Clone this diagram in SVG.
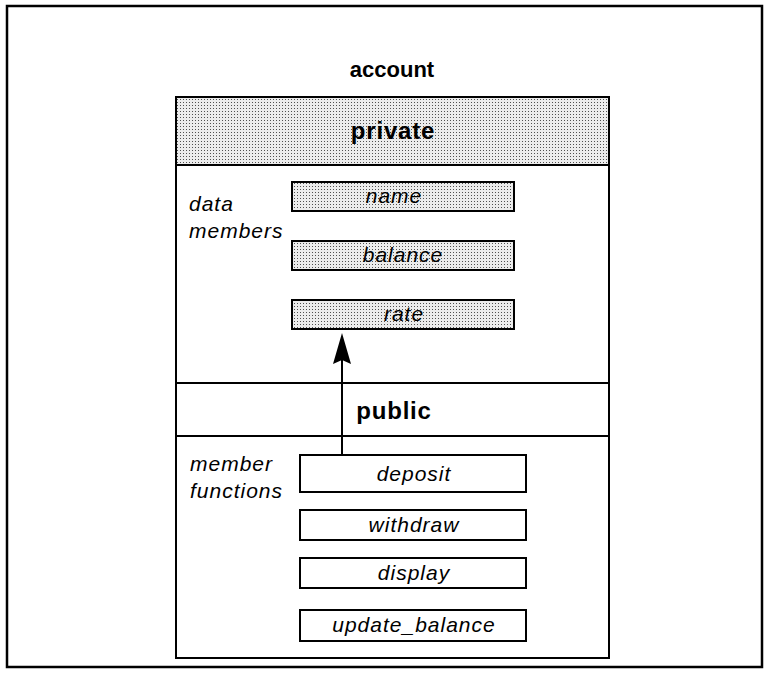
<svg xmlns="http://www.w3.org/2000/svg" width="764" height="698" viewBox="0 0 764 698">
<style>
text{font-family:"Liberation Sans",Arial,sans-serif;fill:#000}
.t{font-weight:bold;font-size:22px;text-anchor:middle}
.b{font-weight:bold;font-size:24px;letter-spacing:0.8px;text-anchor:middle}
.i{font-style:italic;font-size:21px;letter-spacing:1px}
.c{text-anchor:middle}
.box{stroke:#000;stroke-width:2}
.st{fill:url(#stip)}
.wh{fill:#fff}
.ln{stroke:#000;stroke-width:2;fill:none}
</style>
<defs>
<pattern id="stip" width="3" height="3" patternUnits="userSpaceOnUse">
<rect width="3" height="3" fill="#ececec"/>
<rect width="1" height="1" fill="#505050"/>
</pattern>
</defs>
<rect x="7" y="6" width="755" height="661" fill="#fff" stroke="#000" stroke-width="2.5"/>
<g id="account">
<text class="t" x="392" y="77">account</text>
<rect class="box wh" x="176" y="97" width="433" height="561"/>
</g>
<g id="private">
<rect class="box st" x="176" y="97" width="433" height="68"/>
<text class="b" x="393" y="139">private</text>
</g>
<g id="data_members">
<text class="i" x="189" y="211">data</text>
<text class="i" x="189" y="238">members</text>
</g>
<g id="name">
<rect class="box st" x="292" y="182" width="222" height="29"/>
<text class="i c" x="394" y="203">name</text>
</g>
<g id="balance">
<rect class="box st" x="292" y="241" width="222" height="29"/>
<text class="i c" x="403" y="262">balance</text>
</g>
<g id="rate">
<rect class="box st" x="292" y="300" width="222" height="29"/>
<text class="i c" x="404" y="321">rate</text>
</g>
<g id="public">
<rect class="box wh" x="176" y="383" width="433" height="53"/>
<text class="b" x="394" y="419">public</text>
</g>
<g id="member_functions">
<text class="i" x="190" y="471">member</text>
<text class="i" x="190" y="498">functions</text>
</g>
<g id="deposit">
<rect class="box wh" x="300" y="455" width="226" height="37"/>
<text class="i c" x="414" y="481">deposit</text>
</g>
<g id="withdraw">
<rect class="box wh" x="300" y="510" width="226" height="30"/>
<text class="i c" x="414" y="532">withdraw</text>
</g>
<g id="display">
<rect class="box wh" x="300" y="558" width="226" height="30"/>
<text class="i c" x="414" y="580">display</text>
</g>
<g id="update_balance">
<rect class="box wh" x="300" y="610" width="226" height="31"/>
<text class="i c" x="414" y="632">update_balance</text>
</g>
<g id="connectors">
<line class="ln" x1="342" y1="455" x2="342" y2="350"/>
<path d="M342,333 L351,364 L342,360 L333,364 Z" fill="#000"/>
</g>
</svg>
